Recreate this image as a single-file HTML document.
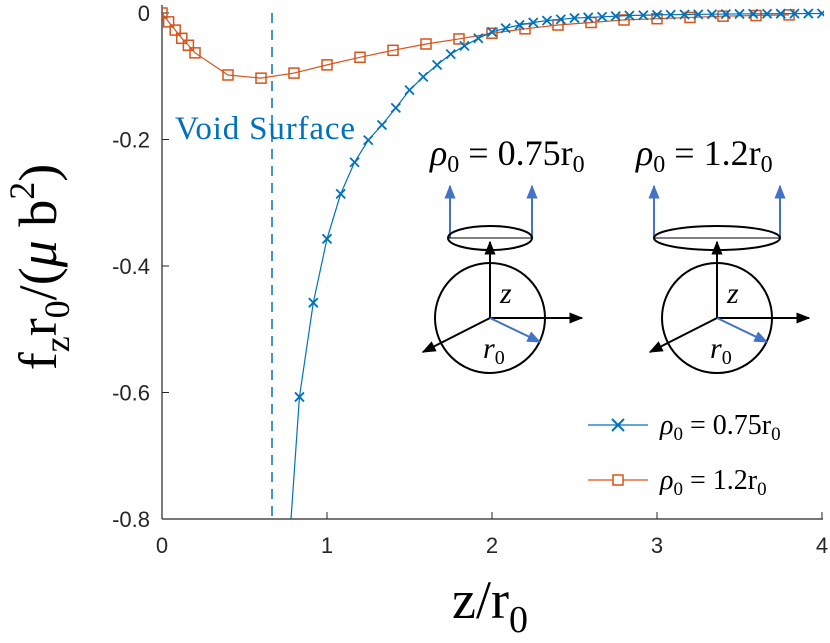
<!DOCTYPE html>
<html><head><meta charset="utf-8"><style>body{margin:0;background:#fff}svg{display:block}</style></head>
<body>
<svg width="830" height="643" viewBox="0 0 830 643" xmlns="http://www.w3.org/2000/svg" font-family="Liberation Sans, sans-serif">
<defs><clipPath id="plotclip"><rect x="162" y="0" width="662" height="519"/></clipPath>
<marker id="ah" viewBox="0 0 10 10" refX="9" refY="5" markerWidth="7" markerHeight="7" orient="auto"><path d="M0,1 L10,5 L0,9 z" fill="#000"/></marker>
<marker id="ahb" viewBox="0 0 10 10" refX="9" refY="5" markerWidth="7" markerHeight="7" orient="auto"><path d="M0,1 L10,5 L0,9 z" fill="#4472c4"/></marker>
</defs>
<g id="axes"></g>
<g id="series" clip-path="url(#plotclip)"></g>
<line x1="272" y1="13" x2="272" y2="519" stroke="#0072bd" stroke-width="1.5" stroke-dasharray="10,7"/>
<text x="175" y="139" font-family="Liberation Serif, serif" font-size="33" fill="#0072bd" textLength="180">Void Surface</text>

<g font-family="Liberation Serif, serif">
<text x="430" y="165" font-size="36" font-style="italic">ρ<tspan font-size="24" dy="7" font-style="normal">0</tspan><tspan dy="-7" font-style="normal"> = 0.75r</tspan><tspan font-size="24" dy="7" font-style="normal">0</tspan></text>
<line x1="450" y1="238" x2="450" y2="186" stroke="#4472c4" stroke-width="2" marker-end="url(#ahb)"/>
<line x1="532" y1="238" x2="532" y2="186" stroke="#4472c4" stroke-width="2" marker-end="url(#ahb)"/>
<ellipse cx="490" cy="238" rx="42" ry="12" fill="none" stroke="#000" stroke-width="2"/>
<line x1="448" y1="238" x2="532" y2="238" stroke="#000" stroke-width="1"/>
<circle cx="490" cy="318" r="55" fill="none" stroke="#000" stroke-width="2"/>
<line x1="490" y1="318" x2="490" y2="242" stroke="#000" stroke-width="2" marker-end="url(#ah)"/>
<line x1="490" y1="318" x2="582" y2="318" stroke="#000" stroke-width="2" marker-end="url(#ah)"/>
<line x1="490" y1="318" x2="423" y2="352" stroke="#000" stroke-width="2" marker-end="url(#ah)"/>
<line x1="490" y1="318" x2="540" y2="342" stroke="#4472c4" stroke-width="2" marker-end="url(#ahb)"/>
<text x="500" y="303" font-size="30" font-style="italic">z</text>
<text x="483" y="358" font-size="30" font-style="italic">r<tspan font-size="20" dy="6" font-style="normal">0</tspan></text>
</g>
<g font-family="Liberation Serif, serif">
<text x="636" y="165" font-size="36" font-style="italic">ρ<tspan font-size="24" dy="7" font-style="normal">0</tspan><tspan dy="-7" font-style="normal"> = 1.2r</tspan><tspan font-size="24" dy="7" font-style="normal">0</tspan></text>
<line x1="654" y1="238" x2="654" y2="186" stroke="#4472c4" stroke-width="2" marker-end="url(#ahb)"/>
<line x1="780" y1="238" x2="780" y2="186" stroke="#4472c4" stroke-width="2" marker-end="url(#ahb)"/>
<ellipse cx="717" cy="238" rx="63" ry="12" fill="none" stroke="#000" stroke-width="2"/>
<line x1="654" y1="238" x2="780" y2="238" stroke="#000" stroke-width="1"/>
<circle cx="717" cy="318" r="55" fill="none" stroke="#000" stroke-width="2"/>
<line x1="717" y1="318" x2="717" y2="242" stroke="#000" stroke-width="2" marker-end="url(#ah)"/>
<line x1="717" y1="318" x2="809" y2="318" stroke="#000" stroke-width="2" marker-end="url(#ah)"/>
<line x1="717" y1="318" x2="650" y2="352" stroke="#000" stroke-width="2" marker-end="url(#ah)"/>
<line x1="717" y1="318" x2="767" y2="342" stroke="#4472c4" stroke-width="2" marker-end="url(#ahb)"/>
<text x="727" y="303" font-size="30" font-style="italic">z</text>
<text x="710" y="358" font-size="30" font-style="italic">r<tspan font-size="20" dy="6" font-style="normal">0</tspan></text>
</g>

<g font-family="Liberation Serif, serif" font-size="28">
<g>
<line x1="588" y1="425" x2="648" y2="425" stroke="#0072bd" stroke-width="1.2"/>
<path d="M612,419 L624,431 M612,431 L624,419" stroke="#0072bd" stroke-width="2"/>
<text x="660" y="434"><tspan font-style="italic">ρ</tspan><tspan font-size="19" dy="6">0</tspan><tspan dy="-6"> = 0.75r</tspan><tspan font-size="19" dy="6">0</tspan></text>
</g>
<g>
<line x1="588" y1="480" x2="648" y2="480" stroke="#d95319" stroke-width="1.2"/>
<rect x="613" y="475" width="10" height="10" fill="#fff" stroke="#d95319" stroke-width="1.5"/>
<text x="660" y="489"><tspan font-style="italic">ρ</tspan><tspan font-size="19" dy="6">0</tspan><tspan dy="-6"> = 1.2r</tspan><tspan font-size="19" dy="6">0</tspan></text>
</g>
</g>

<text transform="translate(56,267) rotate(-90)" text-anchor="middle" font-family="Liberation Serif, serif" font-size="54">f<tspan font-size="36" dy="13">z</tspan><tspan dy="-13">r</tspan><tspan font-size="36" dy="13">0</tspan><tspan dy="-13">/(</tspan><tspan font-style="italic">μ</tspan><tspan> b</tspan><tspan font-size="36" dy="-22">2</tspan><tspan dy="22">)</tspan></text>
<text x="452" y="618" font-family="Liberation Serif, serif" font-size="54">z/r<tspan font-size="38" dy="14">0</tspan></text>

<script>
const xTicks=[0,1,2,3,4];
const yTicks=[0,-0.2,-0.4,-0.6,-0.8];
const yTickLabels=['0','-0.2','-0.4','-0.6','-0.8'];
const orangeX=[0,0.04,0.08,0.12,0.16,0.2,0.4,0.6,0.8,1.0,1.2,1.4,1.6,1.8,2.0,2.2,2.4,2.6,2.8,3.0,3.2,3.4,3.6,3.8];
const orangeY=[0,-0.014,-0.027,-0.040,-0.051,-0.063,-0.098,-0.103,-0.095,-0.082,-0.070,-0.059,-0.049,-0.041,-0.032,-0.025,-0.019,-0.015,-0.011,-0.009,-0.007,-0.005,-0.004,-0.003];
const blueX=[0.75,0.833,0.917,1.0,1.083,1.167,1.25,1.333,1.417,1.5,1.583,1.667,1.75,1.833,1.917,2.0,2.083,2.167,2.25,2.333,2.417,2.5,2.583,2.667,2.75,2.833,2.917,3.0,3.083,3.167,3.25,3.333,3.417,3.5,3.583,3.667,3.75,3.833,3.917,4.0];
const blueY=[-0.92,-0.607,-0.458,-0.357,-0.286,-0.236,-0.201,-0.177,-0.150,-0.122,-0.101,-0.082,-0.065,-0.052,-0.040,-0.030,-0.024,-0.019,-0.015,-0.012,-0.010,-0.008,-0.007,-0.006,-0.005,-0.004,-0.0035,-0.003,-0.0027,-0.0024,-0.0021,-0.0019,-0.0017,-0.0015,-0.0013,-0.0012,-0.0011,-0.001,-0.0009,-0.0008];
const NS='http://www.w3.org/2000/svg';
const X=v=>162+v*165, Y=v=>13-v*632.5;
function mk(t,a,p){const e=document.createElementNS(NS,t);for(const k in a)e.setAttribute(k,a[k]);p.appendChild(e);return e;}
const ax=document.getElementById('axes'), se=document.getElementById('series');
let l=mk('line',{x1:162,y1:519,x2:823,y2:519,stroke:'#262626','stroke-width':1.2},ax);


l=mk('line',{x1:162,y1:5,x2:162,y2:519,stroke:'#262626','stroke-width':1.2},ax);


xTicks.forEach(v=>{mk('line',{x1:X(v),y1:519,x2:X(v),y2:512,stroke:'#262626'},ax);
const t=mk('text',{x:X(v),y:553,'text-anchor':'middle','font-size':22,fill:'#262626'},ax);t.textContent=v;

});
yTicks.forEach((v,i)=>{mk('line',{x1:162,y1:Y(v),x2:169,y2:Y(v),stroke:'#262626'},ax);
const t=mk('text',{x:150,y:Y(v)+8,'text-anchor':'end','font-size':22,fill:'#262626'},ax);t.textContent=yTickLabels[i];

});
let p=mk('polyline',{points:orangeX.map((x,i)=>X(x)+','+Y(orangeY[i])).join(' '),fill:'none',stroke:'#d95319','stroke-width':1.2},se);


orangeX.forEach((x,i)=>{const r=mk('rect',{x:X(x)-5,y:Y(orangeY[i])-5,width:10,height:10,fill:'none',stroke:'#d95319','stroke-width':1.5},se);

});
p=mk('polyline',{points:blueX.map((x,i)=>X(x)+','+Y(blueY[i])).join(' '),fill:'none',stroke:'#0072bd','stroke-width':1.2},se);


blueX.forEach((x,i)=>{if(i===0)return;const cx=X(x),cy=Y(blueY[i]);
const m=mk('path',{d:`M${cx-4.5},${cy-4.5}L${cx+4.5},${cy+4.5}M${cx-4.5},${cy+4.5}L${cx+4.5},${cy-4.5}`,stroke:'#0072bd','stroke-width':1.8},se);

});
</script>
</svg>
</body></html>
